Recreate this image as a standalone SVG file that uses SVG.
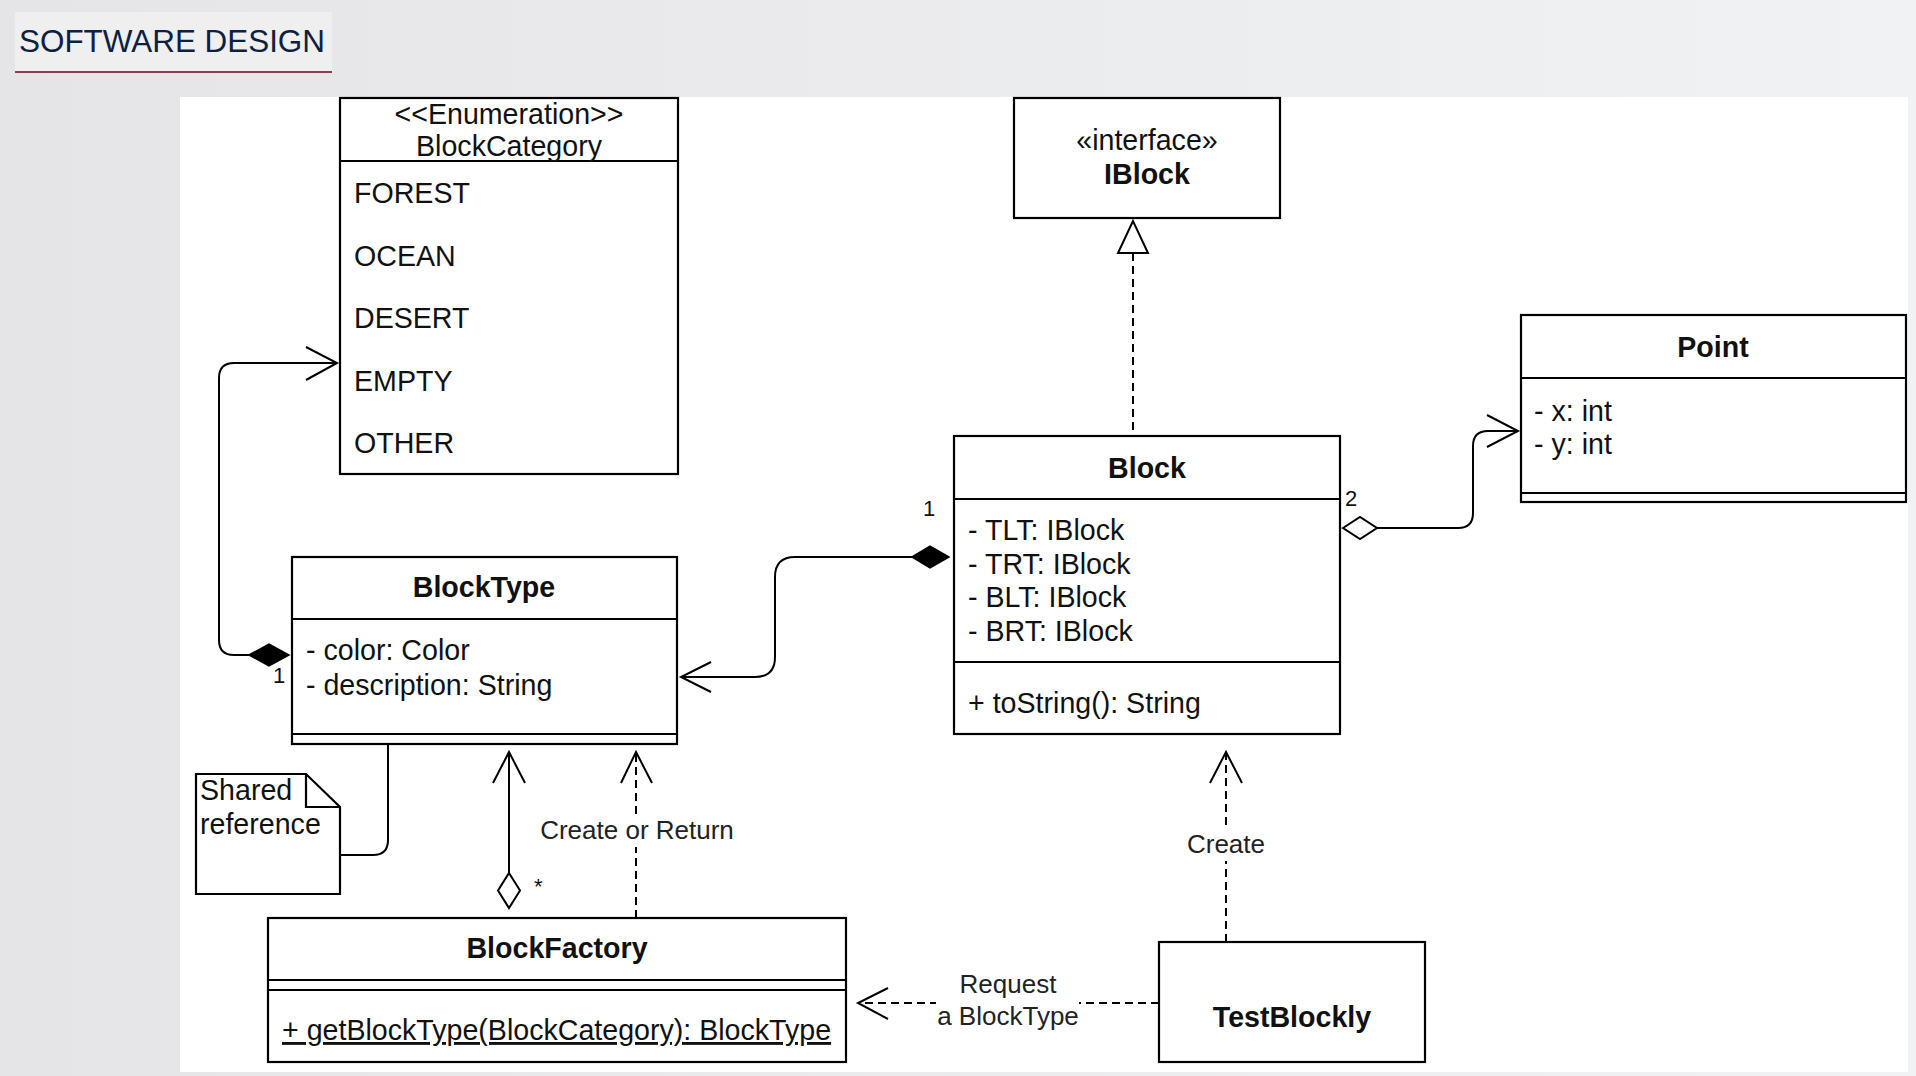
<svg xmlns="http://www.w3.org/2000/svg" width="1916" height="1076" viewBox="0 0 1916 1076">
  <defs>
    <linearGradient id="bg" x1="0" y1="0" x2="1" y2="0">
      <stop offset="0" stop-color="#e5e5e7"/>
      <stop offset="1" stop-color="#f1f2f4"/>
    </linearGradient>
    <style>
      .box { fill: #ffffff; stroke: #000000; stroke-width: 2.2; }
      .sep { stroke: #000000; stroke-width: 2.2; fill: none; }
      .t { font-family: "Liberation Sans", Arial, Helvetica, sans-serif; font-size: 28.6px; fill: #111111; }
      .b { font-weight: bold; }
      .c { text-anchor: middle; }
      .lbl { font-family: "Liberation Sans", Arial, Helvetica, sans-serif; font-size: 26px; fill: #222222; text-anchor: middle; }
      .mult { font-family: "Liberation Sans", Arial, Helvetica, sans-serif; font-size: 22px; fill: #111111; }
      .line { fill: none; stroke: #000000; stroke-width: 2; }
      .dash { fill: none; stroke: #000000; stroke-width: 2; stroke-dasharray: 8 5; }
      .open { fill: none; stroke: #000000; stroke-width: 2; }
      .filled { fill: #000000; stroke: #000000; stroke-width: 1.5; }
      .hollow { fill: #ffffff; stroke: #000000; stroke-width: 2; }
    </style>
  </defs>

  <!-- page background -->
  <rect x="0" y="0" width="1916" height="1076" fill="url(#bg)"/>

  <!-- title -->
  <g id="title">
    <rect x="15" y="12" width="317" height="60" fill="#efeff0"/>
    <line x1="15" y1="72" x2="332" y2="72" stroke="#8e3a59" stroke-width="2"/>
    <text x="19" y="52" font-family="Liberation Sans, Arial, sans-serif" font-size="31" fill="#0c2142" textLength="306" lengthAdjust="spacingAndGlyphs">SOFTWARE DESIGN</text>
  </g>

  <!-- white canvas -->
  <rect x="180" y="97" width="1728" height="975" fill="#ffffff"/>

  <!-- connectors -->
  <g id="connectors">
    <!-- Block realizes IBlock -->
    <line class="dash" x1="1133" y1="253" x2="1133" y2="436"/>
    <polygon class="hollow" points="1133,221 1118,253 1148,253"/>

    <!-- BlockType -> BlockCategory (composition) -->
    <path class="line" d="M 249 655 H 234 Q 219 655 219 640 V 378 Q 219 363 234 363 H 337"/>
    <polyline class="open" points="306,347 337,363 306,380"/>
    <polygon class="filled" points="249,655 269,644 289,655 269,666"/>
    <text class="mult" x="273" y="683">1</text>

    <!-- Block -> BlockType (composition) -->
    <path class="line" d="M 912 557 H 795 Q 775 557 775 577 V 657 Q 775 677 755 677 H 681"/>
    <polyline class="open" points="711,662 681,677 711,692"/>
    <polygon class="filled" points="912,557 930,546 949,557 930,568"/>
    <text class="mult" x="923" y="516">1</text>

    <!-- Block -> Point (aggregation) -->
    <path class="line" d="M 1377 528 H 1458 Q 1473 528 1473 513 V 446 Q 1473 431 1488 431 H 1518"/>
    <polyline class="open" points="1487,415 1518,431 1487,447"/>
    <polygon class="hollow" points="1343,528 1360,517 1377,528 1360,539"/>
    <text class="mult" x="1345" y="506">2</text>

    <!-- note anchor -->
    <path class="line" d="M 388 744 V 840 Q 388 855 373 855 H 340"/>

    <!-- BlockFactory -> BlockType (aggregation) -->
    <line class="line" x1="509" y1="873" x2="509" y2="752"/>
    <polyline class="open" points="493,783 509,752 525,783"/>
    <polygon class="hollow" points="509,873 520,890.5 509,908 498,890.5"/>
    <text class="mult" x="534" y="894" font-size="20">*</text>

    <!-- BlockFactory -> BlockType : Create or Return -->
    <line class="dash" x1="636" y1="918" x2="636" y2="752"/>
    <polyline class="open" points="621,783 636,752 652,783"/>
    <rect x="538" y="816" width="198" height="31" fill="#ffffff"/>
    <text class="lbl" x="637" y="839">Create or Return</text>

    <!-- TestBlockly -> Block : Create -->
    <line class="dash" x1="1226" y1="942" x2="1226" y2="752"/>
    <polyline class="open" points="1210,783 1226,752 1242,783"/>
    <rect x="1186" y="829" width="80" height="32" fill="#ffffff"/>
    <text class="lbl" x="1226" y="853">Create</text>

    <!-- TestBlockly -> BlockFactory : Request a BlockType -->
    <line class="dash" x1="1159" y1="1003" x2="858" y2="1003"/>
    <polyline class="open" points="888,988 858,1003 888,1019"/>
    <rect x="936" y="972" width="143" height="60" fill="#ffffff"/>
    <text class="lbl" x="1008" y="993">Request</text>
    <text class="lbl" x="1008" y="1025">a BlockType</text>
  </g>

  <!-- BlockCategory -->
  <g id="BlockCategory">
    <rect class="box" x="340" y="98" width="338" height="376"/>
    <line class="sep" x1="340" y1="161" x2="678" y2="161"/>
    <text class="t c" x="509" y="124">&lt;&lt;Enumeration&gt;&gt;</text>
    <text class="t c" x="509" y="156">BlockCategory</text>
    <text class="t" x="354" y="203">FOREST</text>
    <text class="t" x="354" y="266">OCEAN</text>
    <text class="t" x="354" y="328">DESERT</text>
    <text class="t" x="354" y="391">EMPTY</text>
    <text class="t" x="354" y="453">OTHER</text>
  </g>

  <!-- IBlock -->
  <g id="IBlock">
    <rect class="box" x="1014" y="98" width="266" height="120"/>
    <text class="t c" x="1147" y="150">«interface»</text>
    <text class="t b c" x="1147" y="184">IBlock</text>
  </g>

  <!-- Block -->
  <g id="Block">
    <rect class="box" x="954" y="436" width="386" height="298"/>
    <line class="sep" x1="954" y1="499" x2="1340" y2="499"/>
    <line class="sep" x1="954" y1="662" x2="1340" y2="662"/>
    <text class="t b c" x="1147" y="478">Block</text>
    <text class="t" x="968" y="540">- TLT: IBlock</text>
    <text class="t" x="968" y="574">- TRT: IBlock</text>
    <text class="t" x="968" y="607">- BLT: IBlock</text>
    <text class="t" x="968" y="641">- BRT: IBlock</text>
    <text class="t" x="968" y="713">+ toString(): String</text>
  </g>

  <!-- Point -->
  <g id="Point">
    <rect class="box" x="1521" y="315" width="385" height="187"/>
    <line class="sep" x1="1521" y1="378" x2="1906" y2="378"/>
    <line class="sep" x1="1521" y1="493" x2="1906" y2="493"/>
    <text class="t b c" x="1713" y="357">Point</text>
    <text class="t" x="1534" y="421">- x: int</text>
    <text class="t" x="1534" y="454">- y: int</text>
  </g>

  <!-- BlockType -->
  <g id="BlockType">
    <rect class="box" x="292" y="557" width="385" height="187"/>
    <line class="sep" x1="292" y1="619" x2="677" y2="619"/>
    <line class="sep" x1="292" y1="734" x2="677" y2="734"/>
    <text class="t b c" x="484" y="597">BlockType</text>
    <text class="t" x="306" y="660">- color: Color</text>
    <text class="t" x="306" y="695">- description: String</text>
  </g>

  <!-- Shared reference note -->
  <g id="SharedReference">
    <path class="box" d="M 196 774 H 306 L 340 807 V 894 H 196 Z"/>
    <path class="sep" d="M 306 774 V 807 H 340"/>
    <text class="t" x="200" y="800">Shared</text>
    <text class="t" x="200" y="834">reference</text>
  </g>

  <!-- BlockFactory -->
  <g id="BlockFactory">
    <rect class="box" x="268" y="918" width="578" height="144"/>
    <line class="sep" x1="268" y1="980" x2="846" y2="980"/>
    <line class="sep" x1="268" y1="990" x2="846" y2="990"/>
    <text class="t b c" x="557" y="958">BlockFactory</text>
    <text class="t" x="282" y="1040" text-decoration="underline">+ getBlockType(BlockCategory): BlockType</text>
  </g>

  <!-- TestBlockly -->
  <g id="TestBlockly">
    <rect class="box" x="1159" y="942" width="266" height="120"/>
    <text class="t b c" x="1292" y="1027">TestBlockly</text>
  </g>
</svg>
